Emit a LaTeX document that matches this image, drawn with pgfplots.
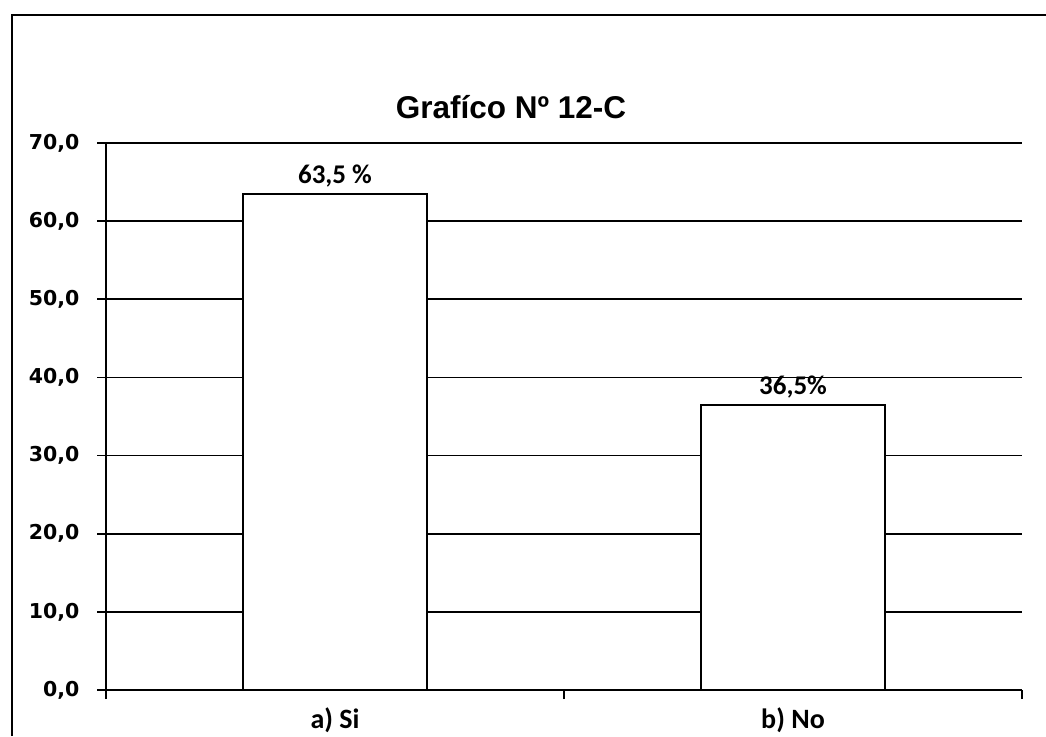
\documentclass[border=0pt]{standalone}
\usepackage{pgfplots}
\pgfplotsset{compat=1.18}
\usepackage{fontspec}
\setmainfont{Carlito}
\newfontfamily\ticksfont{DejaVu Sans}
\newfontfamily\titlefont{Liberation Sans}
\begin{document}
\begin{tikzpicture}[x=1pt,y=1pt]
\path[use as bounding box] (0,0) rectangle (1046,736);
\draw[line width=2.5pt] (12,0) -- (12,721) -- (1046,721);
\node[font=\titlefont\bfseries\fontsize{31.5}{36}\selectfont] at (511,629) {Grafíco Nº 12-C};
\begin{axis}[
  at={(106pt,46pt)}, anchor=south west,
  scale only axis, width=916pt, height=547pt,
  xmin=-0.5, xmax=1.5, ymin=0, ymax=70,
  axis x line=bottom, axis y line=left,
  axis line style={-, line width=1.6pt, black},
  tick align=outside, major tick length=9pt,
  tick style={black, line width=1.6pt},
  ytick={0,10,20,30,40,50,60,70},
  yticklabel style={/pgf/number format/fixed, /pgf/number format/fixed zerofill, /pgf/number format/precision=1, /pgf/number format/use comma, /pgf/number format/assume math mode=true},
  yticklabel style={font=\ticksfont\bfseries\fontsize{20.5}{24}\selectfont, xshift=-14pt},
  ymajorgrids, grid style={black, line width=1.6pt},
  xtick={-0.5,0.5,1.5}, xticklabels={},
  extra x ticks={0,1}, extra x tick labels={a) Si, b) No},
  extra x tick style={major tick length=0pt, grid=none, xticklabel style={font=\bfseries\fontsize{28}{30}\selectfont, yshift=-14pt}},
  ybar, bar width=184pt, bar shift=0pt,
  point meta=explicit symbolic,
  nodes near coords,
  every node near coord/.append style={font=\bfseries\fontsize{27}{30}\selectfont, yshift=2pt},
  clip=false,
]
\addplot[fill=white, draw=black, line width=2.5pt] coordinates {(0,63.5) [63,5 \%] (1,36.5) [36,5\%]};
\end{axis}
\end{tikzpicture}
\end{document}
